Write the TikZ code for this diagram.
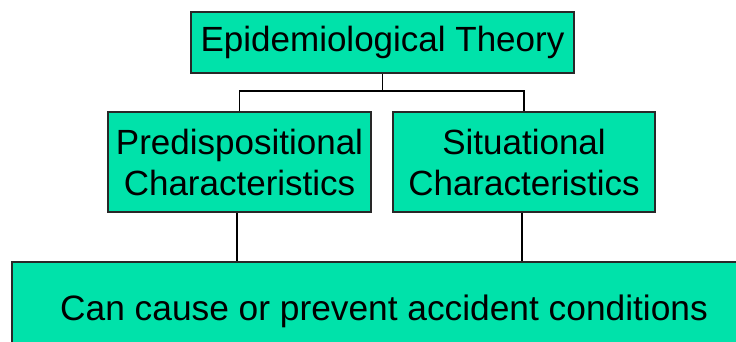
\documentclass[tikz,border=0pt]{standalone}
\usepackage{fontspec}
\setmainfont{Liberation Sans}
\definecolor{boxgreen}{RGB}{0,226,170}
\definecolor{edge}{RGB}{40,40,40}
\begin{document}
\begin{tikzpicture}[x=1pt,y=1pt,
  box/.style={draw=edge,fill=boxgreen,line width=1.1pt,inner sep=0pt,align=center,
    font=\fontsize{35}{41}\selectfont,text=black},
  link/.style={draw=black,line width=1.1pt}]
\useasboundingbox (0,0) rectangle (736,-341);
\clip (0,0) rectangle (736,-341);
\node[box,minimum width=383pt,minimum height=61pt] (top) at (382.5,-42.5) {Epidemiological Theory};
\node[box,minimum width=263pt,minimum height=100pt] (pre) at (239.5,-162) {Predispositional\\Characteristics};
\node[box,minimum width=262pt,minimum height=100pt] (sit) at (524,-162) {Situational\\Characteristics};
\node[box,minimum width=744pt,minimum height=99pt,font=\fontsize{35.3}{41}\selectfont] (bot) at (384,-311.5) {Can cause or prevent accident conditions};
\coordinate (mid) at (382.5,-91);
\draw[link] (top.south) -- (mid);
\draw[link] (pre.north) |- (mid) -| (sit.north);
\draw[link] ([xshift=-2.5pt]pre.south) -- ([xshift=-2.5pt]pre.south |- bot.north);
\draw[link] ([xshift=-2pt]sit.south) -- ([xshift=-2pt]sit.south |- bot.north);
\end{tikzpicture}
\end{document}
